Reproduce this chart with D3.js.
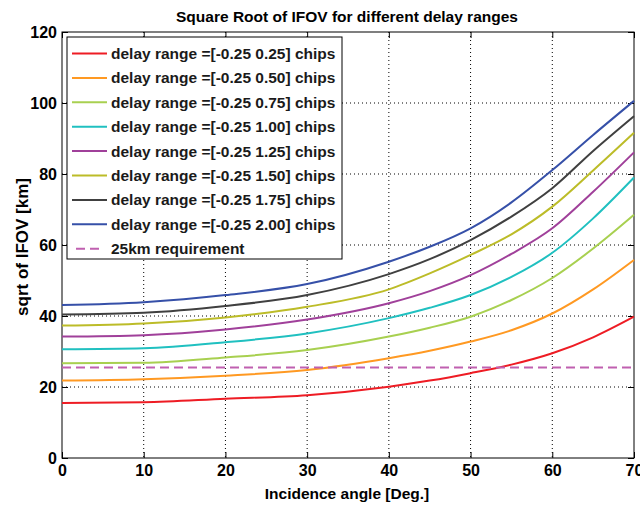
<!DOCTYPE html>
<html><head><meta charset="utf-8">
<script src="https://cdn.jsdelivr.net/npm/d3@7"></script>
<style>
body{margin:0;background:#fff;}
text{font-family:"Liberation Sans",Arial,sans-serif;}
</style></head>
<body><svg id="c" width="640" height="506"></svg>
<script>
const angles = [0, 10, 20, 30, 40, 45, 50, 55, 60, 65, 70];
const seriesNames = [
  "delay range =[-0.25 0.25] chips",
  "delay range =[-0.25 0.50] chips",
  "delay range =[-0.25 0.75] chips",
  "delay range =[-0.25 1.00] chips",
  "delay range =[-0.25 1.25] chips",
  "delay range =[-0.25 1.50] chips",
  "delay range =[-0.25 1.75] chips",
  "delay range =[-0.25 2.00] chips"
];
const r025 = [15.5, 15.7, 16.7, 17.7, 20.1, 21.8, 23.9, 26.3, 29.5, 34.0, 39.8];
const r050 = [21.8, 22.2, 23.2, 24.8, 28.1, 30.2, 32.8, 36.0, 40.7, 47.5, 55.8];
const r075 = [26.7, 26.8, 28.3, 30.4, 34.2, 36.7, 39.8, 44.5, 50.7, 59.0, 68.5];
const r100 = [30.6, 30.9, 32.6, 35.1, 39.4, 42.3, 45.9, 51.0, 57.8, 67.5, 79.0];
const r125 = [34.2, 34.6, 36.2, 39.0, 43.6, 47.0, 51.5, 57.5, 64.7, 75.0, 86.1];
const r150 = [37.3, 37.9, 39.6, 42.6, 47.5, 52.0, 57.2, 63.0, 70.8, 81.0, 91.6];
const r175 = [40.4, 40.9, 42.8, 45.9, 51.8, 56.0, 61.4, 68.0, 76.0, 86.5, 96.3];
const r200 = [43.1, 43.9, 45.9, 49.0, 55.3, 59.5, 64.7, 72.0, 81.1, 91.0, 100.6];
const seriesValues = [r025, r050, r075, r100, r125, r150, r175, r200];
const seriesColors = ["#ee1c24", "#ff9922", "#a8d050", "#20c0c0", "#a0409a", "#bcbc28", "#404040", "#3650a8"];
const requirement = 25.5;
const requirementName = "25km requirement";
const xTicks = [0, 10, 20, 30, 40, 50, 60, 70];
const yTicks = [0, 20, 40, 60, 80, 100, 120];
const titleText = "Square Root of IFOV for different delay ranges";
const xLabel = "Incidence angle [Deg.]";
const yLabel = "sqrt of IFOV [km]";

const svg = d3.select("#c");
const L = 62, R = 634, T = 32, B = 458;
const x = d3.scaleLinear().domain([0, 70]).range([L, R]);
const y = d3.scaleLinear().domain([0, 120]).range([B, T]);

// grid
const g = svg.append("g");
g.selectAll(".vg").data(xTicks.slice(1, -1)).join("line")
  .attr("x1", d => x(d)).attr("x2", d => x(d)).attr("y1", T).attr("y2", B)
  .attr("stroke", "#000").attr("stroke-width", 1).attr("stroke-dasharray", "1,3");
g.selectAll(".hg").data(yTicks.slice(1, -1)).join("line")
  .attr("y1", d => y(d)).attr("y2", d => y(d)).attr("x1", L).attr("x2", R)
  .attr("stroke", "#000").attr("stroke-width", 1).attr("stroke-dasharray", "1,3");

// axes with inside ticks
const fs = "16px";
const ax = svg.append("g").attr("transform", `translate(0,${B})`)
  .call(d3.axisBottom(x).tickValues(xTicks).tickSize(-6).tickPadding(7).tickFormat(d3.format("d")));
const ay = svg.append("g").attr("transform", `translate(${L},0)`)
  .call(d3.axisLeft(y).tickValues(yTicks).tickSize(-6).tickPadding(5).tickFormat(d3.format("d")));
const at = svg.append("g").attr("transform", `translate(0,${T})`)
  .call(d3.axisTop(x).tickValues(xTicks).tickSize(-6).tickFormat(""));
const ar = svg.append("g").attr("transform", `translate(${R},0)`)
  .call(d3.axisRight(y).tickValues(yTicks).tickSize(-6).tickFormat(""));
[ax, ay, at, ar].forEach(a => {
  a.select(".domain").remove();
  a.selectAll("text").attr("font-size", fs).attr("font-weight", "bold").attr("fill", "#000")
    .attr("font-family", "'Liberation Sans', Arial, sans-serif");
  a.selectAll("line").attr("stroke", "#000");
});
svg.append("rect").attr("x", L).attr("y", T).attr("width", R - L).attr("height", B - T)
  .attr("fill", "none").attr("stroke", "#000").attr("stroke-width", 1);

// lines
const line = d3.line().x((d, i) => x(angles[i])).y(d => y(d)).curve(d3.curveMonotoneX);
svg.append("g").selectAll("path").data(seriesValues).join("path")
  .attr("d", d => line(d)).attr("fill", "none")
  .attr("stroke", (d, i) => seriesColors[i]).attr("stroke-width", 2);
svg.append("line").attr("x1", x(0)).attr("x2", x(70)).attr("y1", y(requirement)).attr("y2", y(requirement))
  .attr("stroke", "#c060b0").attr("stroke-width", 2).attr("stroke-dasharray", "9,5");

// legend
const lg = svg.append("g");
lg.append("rect").attr("x", 67).attr("y", 37).attr("width", 275).attr("height", 222)
  .attr("fill", "#fff").attr("stroke", "#000").attr("stroke-width", 1);
const rowY = i => 53.5 + i * 24.4;
seriesNames.forEach((n, i) => {
  lg.append("line").attr("x1", 72).attr("x2", 107).attr("y1", rowY(i)).attr("y2", rowY(i))
    .attr("stroke", seriesColors[i]).attr("stroke-width", 2);
  lg.append("text").attr("x", 111).attr("y", rowY(i) + 5.5).text(n)
    .attr("font-size", "15.5px").attr("font-weight", "bold").attr("fill", "#1a1a1a");
});
lg.append("line").attr("x1", 76).attr("x2", 104).attr("y1", rowY(8)).attr("y2", rowY(8))
  .attr("stroke", "#c060b0").attr("stroke-width", 2).attr("stroke-dasharray", "9,5");
lg.append("text").attr("x", 111).attr("y", rowY(8) + 5.5).text(requirementName)
  .attr("font-size", "15.5px").attr("font-weight", "bold").attr("fill", "#1a1a1a");

// titles
svg.append("text").attr("x", 347).attr("y", 22).attr("text-anchor", "middle")
  .attr("font-size", "15.5px").attr("font-weight", "bold").text(titleText);
svg.append("text").attr("x", 347).attr("y", 499).attr("text-anchor", "middle")
  .attr("font-size", "15.5px").attr("font-weight", "bold").text(xLabel);
svg.append("text").attr("transform", "translate(28,247) rotate(-90)").attr("text-anchor", "middle")
  .attr("font-size", "17px").attr("font-weight", "bold").text(yLabel);
</script></body></html>
